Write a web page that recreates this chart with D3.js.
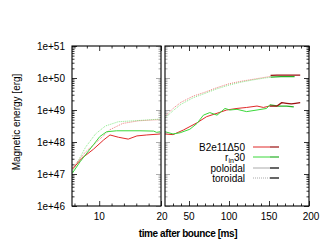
<!DOCTYPE html>
<html>
<head>
<meta charset="utf-8">
<script src="https://cdn.jsdelivr.net/npm/d3@7"></script>
<style>
  body { margin: 0; background: white; }
  text { font-family: "Liberation Sans", Arial, sans-serif; fill: black; }
</style>
</head>
<body>
<div id="container"></div>
<script>
let w = 320;
let h = 252;

// ---- data (time in ms, energy in erg) ----
// left panel, early times
let earlyT_redPol = [5.65, 7.2, 9.05, 10.7, 11.75, 13.1, 14.7, 16.1, 17.7, 19.85];
let earlyE_redPol = [1.4e47, 3.1e47, 5.9e47, 1.15e48, 1.66e48, 1.41e48, 1.23e48, 1.55e48, 1.66e48, 1.78e48];
let earlyT_grnPol = [5.65, 6.9, 8.0, 9.05, 10.1, 11.2, 12.8, 14.5, 16.6, 18.8, 19.3, 19.85];
let earlyE_grnPol = [1.05e47, 2.4e47, 4.5e47, 8.1e47, 1.48e48, 2.09e48, 2.24e48, 2.24e48, 2.24e48, 2.19e48, 2.0e48, 2.09e48];
let earlyT_redTor = [5.65, 7.8, 10.1, 11.7, 13.8, 16.4, 19.85];
let earlyE_redTor = [1.55e47, 4.9e47, 1.23e48, 2.4e48, 3.8e48, 4.6e48, 5.0e48];
let earlyT_grnTor = [5.65, 7.8, 9.4, 11.0, 13.1, 16.4, 19.85];
let earlyE_grnTor = [1.15e47, 6.9e47, 1.78e48, 3.16e48, 4.3e48, 4.7e48, 5.2e48];

// right panel, late times
let lateT_redPol = [20, 30, 43, 60, 72, 85, 97, 110, 122, 135, 143, 151];
let lateE_redPol = [1.78e48, 1.7e48, 2.37e48, 3.98e48, 6.2e48, 7.9e48, 1.0e49, 1.12e49, 1.2e49, 1.33e49, 1.2e49, 1.33e49];
let lateT_grnPol = [20, 30, 39, 51, 60, 68, 76, 85, 95, 101, 110, 122, 135, 147, 151];
let lateE_grnPol = [2.1e48, 1.78e48, 1.95e48, 2.5e48, 3.8e48, 6.9e48, 8.3e48, 6.9e48, 1.12e49, 1.0e49, 1.05e49, 8.9e48, 1.0e49, 1.12e49, 1.45e49];
let lateT_redTor = [20, 30, 40, 55, 70, 85, 100, 115, 130, 145, 152];
let lateE_redTor = [6.3e48, 1.12e49, 1.74e49, 2.7e49, 3.6e49, 5.0e49, 6.6e49, 7.9e49, 9.1e49, 1.05e50, 1.12e50];
let lateT_grnTor = [20, 30, 40, 55, 70, 85, 100, 115, 130, 145, 152];
let lateE_grnTor = [5.6e48, 9.5e48, 1.51e49, 2.4e49, 3.3e49, 4.6e49, 6.0e49, 7.4e49, 8.7e49, 1.0e50, 1.05e50];

// continuation runs (darker)
let contT_redPol = [151, 160, 166, 172, 178, 183, 189];
let contE_redPol = [1.33e49, 1.33e49, 1.7e49, 1.62e49, 1.55e49, 1.62e49, 1.7e49];
let contT_grnPol = [151, 162, 172, 181];
let contE_grnPol = [1.45e49, 1.33e49, 1.33e49, 1.26e49];
let contT_redTor = [152, 160, 175, 189];
let contE_redTor = [1.2e50, 1.23e50, 1.23e50, 1.23e50];
let contT_grnTor = [152, 165, 182];
let contE_grnTor = [1.07e50, 1.1e50, 1.1e50];

let yTicks = [1e46, 1e47, 1e48, 1e49, 1e50, 1e51];
let leftTicks = [10, 20];
let rightTicks = [50, 100, 150, 200];

let legendNames = ["B2e11\u039450", "r_in30", "poloidal", "toroidal"];

let red = "#e02828";
let green = "#3ad83a";
let darkRed = "#9a1010";
let darkGreen = "#26b026";

let viz = d3.select("#container")
  .append("svg")
    .attr("width", w)
    .attr("height", h)
    .style("background-color", "white")
;

// scales
let plotTop = 46, plotBottom = 206;
let y = d3.scaleLog().domain([1e46, 1e51]).range([plotBottom, plotTop]);
let xL = d3.scaleLinear().domain([5.6, 20]).range([72, 161]);
let xR = d3.scaleLinear().domain([20, 200]).range([165, 309]);

function zip(ts, es){
  return ts.map(function(t, i){ return [t, es[i]]; });
}

function drawLine(g, xs, ts, es, color, dotted, width){
  let line = d3.line()
    .x(function(d){ return xs(d[0]); })
    .y(function(d){ return y(d[1]); })
  ;
  g.append("path")
    .datum(zip(ts, es))
    .attr("d", line)
    .attr("fill", "none")
    .attr("stroke", color)
    .attr("stroke-width", width || 1)
    .attr("stroke-dasharray", dotted ? "1,1" : null)
    .attr("stroke-opacity", dotted ? 0.75 : 1)
    .attr("stroke-linejoin", "round")
  ;
}

viz.append("clipPath").attr("id", "clipL")
  .append("rect").attr("x", 72).attr("y", plotTop).attr("width", 89).attr("height", plotBottom - plotTop);
viz.append("clipPath").attr("id", "clipR")
  .append("rect").attr("x", 165).attr("y", plotTop).attr("width", 144).attr("height", plotBottom - plotTop);

let gL = viz.append("g").attr("clip-path", "url(#clipL)");
let gR = viz.append("g").attr("clip-path", "url(#clipR)");

// dotted (toroidal) first, solid on top
drawLine(gL, xL, earlyT_redTor, earlyE_redTor, red, true, 0.8);
drawLine(gL, xL, earlyT_grnTor, earlyE_grnTor, green, true, 0.8);
drawLine(gL, xL, earlyT_redPol, earlyE_redPol, red, false, 1);
drawLine(gL, xL, earlyT_grnPol, earlyE_grnPol, green, false, 1);

drawLine(gR, xR, lateT_redTor, lateE_redTor, red, true, 0.8);
drawLine(gR, xR, lateT_grnTor, lateE_grnTor, green, true, 0.8);
drawLine(gR, xR, lateT_redPol, lateE_redPol, red, false, 1);
drawLine(gR, xR, lateT_grnPol, lateE_grnPol, green, false, 1);
drawLine(gR, xR, contT_grnTor, contE_grnTor, darkGreen, false, 1.3);
drawLine(gR, xR, contT_redTor, contE_redTor, darkRed, false, 1.3);
drawLine(gR, xR, contT_grnPol, contE_grnPol, darkGreen, false, 1.3);
drawLine(gR, xR, contT_redPol, contE_redPol, darkRed, false, 1.3);

// axes: ticks pointing inward on every side
function minorLog(){
  let out = [];
  for (let e = 46; e < 51; e++) {
    for (let m = 2; m < 10; m++) out.push(m * Math.pow(10, e));
  }
  return out;
}

function panelAxes(xs, major, minor, x0, x1, leftCol, rightCol){
  let g = viz.append("g");
  g.append("g").attr("transform", "translate(0," + plotBottom + ")")
    .call(d3.axisBottom(xs).tickValues(major).tickSize(-5).tickFormat(""));
  g.append("g").attr("transform", "translate(0," + plotBottom + ")")
    .call(d3.axisBottom(xs).tickValues(minor).tickSize(-2.5).tickFormat(""));
  g.append("g").attr("transform", "translate(0," + plotTop + ")")
    .call(d3.axisTop(xs).tickValues(major).tickSize(-5).tickFormat(""));
  g.append("g").attr("transform", "translate(0," + plotTop + ")")
    .call(d3.axisTop(xs).tickValues(minor).tickSize(-2.5).tickFormat(""));
  g.append("g").attr("transform", "translate(" + x0 + ",0)")
    .call(d3.axisLeft(y).tickValues(yTicks).tickSize(-5).tickFormat(""))
    .selectAll("line").attr("stroke", leftCol);
  g.append("g").attr("transform", "translate(" + x0 + ",0)")
    .call(d3.axisLeft(y).tickValues(minorLog()).tickSize(-2.5).tickFormat(""))
    .selectAll("line").attr("stroke", leftCol);
  g.append("g").attr("transform", "translate(" + x1 + ",0)")
    .call(d3.axisRight(y).tickValues(yTicks).tickSize(-5).tickFormat(""))
    .selectAll("line").attr("stroke", rightCol);
  g.append("g").attr("transform", "translate(" + x1 + ",0)")
    .call(d3.axisRight(y).tickValues(minorLog()).tickSize(-2.5).tickFormat(""))
    .selectAll("line").attr("stroke", rightCol);
  g.selectAll(".domain").remove();
  g.selectAll("line").attr("stroke-width", 0.8);
  g.append("rect")
    .attr("x", x0).attr("y", plotTop)
    .attr("width", x1 - x0).attr("height", plotBottom - plotTop)
    .attr("fill", "none").attr("stroke", "black").attr("stroke-width", 1.1);
}

panelAxes(xL, leftTicks, [6, 8, 12, 14, 16, 18], 72, 161, "black", "#999");
panelAxes(xR, rightTicks, d3.range(30, 200, 10).filter(function(v){ return v % 50 != 0; }), 165, 309, "#999", "black");

// tick labels
viz.selectAll(".ylab").data(yTicks).enter()
  .append("text")
    .attr("class", "ylab")
    .attr("x", 65)
    .attr("y", function(d){ return y(d) + 3.5; })
    .attr("text-anchor", "end")
    .attr("font-size", 10)
    .text(function(d){ return "1e+" + Math.round(Math.log10(d)); })
;
viz.selectAll(".xlabL").data(leftTicks).enter()
  .append("text")
    .attr("class", "xlabL")
    .attr("x", function(d){ return xL(d) + (d == 20 ? 1 : 0); })
    .attr("y", 220)
    .attr("text-anchor", "middle")
    .attr("font-size", 10)
    .text(function(d){ return d; })
;
viz.selectAll(".xlabR").data(rightTicks).enter()
  .append("text")
    .attr("class", "xlabR")
    .attr("x", function(d){ return xR(d) + (d == 200 ? 2 : 0); })
    .attr("y", 220)
    .attr("text-anchor", "middle")
    .attr("font-size", 10)
    .text(function(d){ return d; })
;

// axis titles
viz.append("text")
  .attr("x", 188)
  .attr("y", 237)
  .attr("text-anchor", "middle")
  .attr("font-size", 10)
  .attr("font-weight", "bold")
  .attr("letter-spacing", -0.4)
  .text("time after bounce [ms]")
;
viz.append("text")
  .attr("transform", "translate(20,122) rotate(-90)")
  .attr("text-anchor", "middle")
  .attr("font-size", 10)
  .text("Magnetic energy [erg]")
;

// legend
let legY = [147, 157, 168, 178];
let legCol = [[red, darkRed], [green, darkGreen], ["#aaa", "black"], ["#aaa", "black"]];
let legend = viz.selectAll(".leg").data(legendNames).enter()
  .append("g")
    .attr("class", "leg")
    .attr("transform", function(d, i){ return "translate(0," + legY[i] + ")"; })
;
legend.append("line")
  .attr("x1", 253).attr("x2", 270).attr("y1", 0).attr("y2", 0)
  .attr("stroke", function(d, i){ return legCol[i][0]; })
  .attr("stroke-width", 1)
  .attr("stroke-dasharray", function(d, i){ return i == 3 ? "1,1" : null; })
;
legend.append("line")
  .attr("x1", 270).attr("x2", 279).attr("y1", 0).attr("y2", 0)
  .attr("stroke", function(d, i){ return legCol[i][1]; })
  .attr("stroke-width", 1.2)
;
legend.each(function(d, i){
  let t = d3.select(this).append("text")
    .attr("x", 245)
    .attr("y", 3.5)
    .attr("text-anchor", "end")
    .attr("font-size", 10)
  ;
  if (d == "r_in30") {
    t.append("tspan").text("r");
    t.append("tspan").attr("font-size", 7).attr("dy", 2).text("in");
    t.append("tspan").attr("dy", -2).text("30");
  } else {
    t.text(d);
  }
});
</script>
</body>
</html>
